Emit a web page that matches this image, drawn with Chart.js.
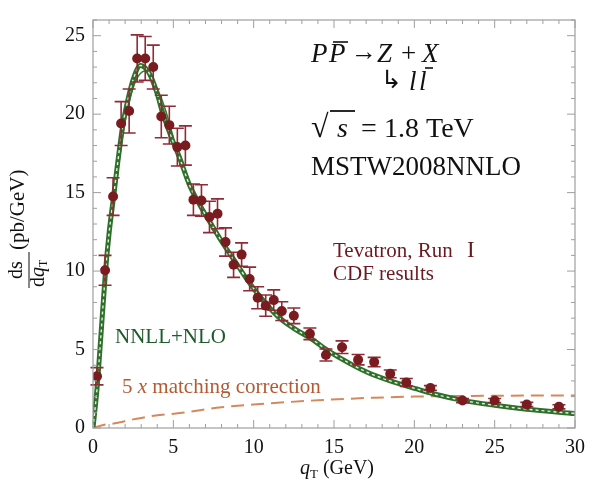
<!DOCTYPE html>
<html><head><meta charset="utf-8">
<script src="https://cdn.jsdelivr.net/npm/chart.js@4/dist/chart.umd.min.js"></script>
<style>html,body{margin:0;padding:0;background:#fff}#wrap{width:593px;height:482px;position:relative}</style>
</head><body><div id="wrap"><canvas id="c" width="593" height="482"></canvas></div>
<script>
// CDF Run I data (qT bin centres, cross-section, error)
const qData  = [0.25,0.75,1.25,1.75,2.25,2.75,3.25,3.75,4.25,4.75,5.25,5.75,6.25,6.75,7.25,7.75,8.25,8.75,9.25,9.75,10.25,10.75,11.25,11.75,12.5,13.5,14.5,15.5,16.5,17.5,18.5,19.5,21,23,25,27,29];
const dsData = [3.3,10.05,14.75,19.4,20.2,23.55,23.55,23.0,19.85,19.3,17.9,18.0,14.55,14.5,13.45,13.65,11.85,10.4,11.05,9.5,8.3,7.8,8.15,7.45,7.15,6.0,4.65,5.15,4.35,4.2,3.45,2.9,2.55,1.75,1.75,1.5,1.35];
const dsErr  = [0.55,0.95,1.2,1.4,1.4,1.5,1.4,1.4,1.35,1.2,1.2,1.25,1.0,1.0,1.0,0.95,0.9,0.8,0.75,0.75,0.7,0.68,0.65,0.6,0.5,0.37,0.38,0.4,0.33,0.3,0.25,0.25,0.15,0.13,0.13,0.13,0.13];
// NNLL+NLO theory curve
const theoryQ = [0,0.25,0.5,0.78,1.0,1.3,1.5,1.87,2.0,2.5,2.96,3.5,4.0,4.33,5.0,5.36,6.0,6.6,7.41,8.0,8.85,9.5,10.29,11.52,12.5,13.57,14.6,16,17.07,18.5,20.15,21.5,23,25,27,30];
const theoryV = [0,2.5,6.0,10.0,12.4,14.9,16.6,19.4,20.1,22.2,23.1,22.6,21.3,20.1,18.2,17.3,15.5,14.3,12.9,11.9,10.6,9.6,8.5,7.1,6.35,5.7,4.95,4.1,3.55,3.0,2.49,2.1,1.76,1.45,1.2,0.92];
// second edge of the band around the peak
const theoryPeakQ = [1.3,1.87,2.5,3.25,4.0,4.5,5.0];
const theoryPeakV = [14.3,18.8,21.7,22.75,21.6,20.3,18.5];
// 5 x matching correction
const matchQ = [0,0.64,1.36,2.5,3.9,5.4,8,10,12.1,14,15.8,17.5,20,23,26,30];
const matchV = [0,0.19,0.3,0.55,0.8,0.95,1.32,1.5,1.65,1.77,1.86,1.93,2.0,2.04,2.06,2.07];
// axis ticks
const xTicks = [0,5,10,15,20,25,30];
const yTicks = [0,5,10,15,20,25];
const xMinorStep = 1, yMinorStep = 1;

const SERIF = "'Liberation Serif','Times New Roman',serif";
const pts = (xs, ys) => xs.map((x,i)=>({x, y: ys[i]}));

function runs(ctx, x, y, list){
  for(const r of list){
    ctx.font = r.font; ctx.fillStyle = r.color || ctx.fillStyle;
    const dx = r.dx || 0;
    ctx.fillText(r.t, x + dx, y + (r.dy||0));
    x += dx + ctx.measureText(r.t).width;
  }
  return x;
}

const decor = {
  id:'decor',
  beforeDatasetDraw(chart, args){
    if(args.index !== 0) return;
    const ctx = chart.ctx, xs = chart.scales.x, ys = chart.scales.y;
    ctx.save();
    ctx.strokeStyle = '#8d2c36'; ctx.lineWidth = 1.6;
    qData.forEach((q,i)=>{
      const px = xs.getPixelForValue(q);
      const y1 = ys.getPixelForValue(dsData[i]+dsErr[i]);
      const y2 = ys.getPixelForValue(dsData[i]-dsErr[i]);
      ctx.beginPath();
      ctx.moveTo(px,y1); ctx.lineTo(px,y2);
      ctx.moveTo(px-6.5,y1); ctx.lineTo(px+6.5,y1);
      ctx.moveTo(px-6.5,y2); ctx.lineTo(px+6.5,y2);
      ctx.stroke();
    });
    ctx.restore();
  },
  afterDraw(chart){
    const ctx = chart.ctx, xs = chart.scales.x, ys = chart.scales.y;
    const {left,right,top,bottom} = chart.chartArea;
    ctx.save();
    // frame
    ctx.strokeStyle = '#9e9e9e'; ctx.lineWidth = 1.2;
    ctx.strokeRect(left, top, right-left, bottom-top);
    // ticks (inward, all sides)
    ctx.lineWidth = 1;
    for(let v = xs.min; v <= xs.max + 1e-9; v += xMinorStep){
      const px = xs.getPixelForValue(v);
      const len = xTicks.includes(v) ? 8 : 4;
      ctx.beginPath();
      ctx.moveTo(px, bottom); ctx.lineTo(px, bottom-len);
      ctx.moveTo(px, top); ctx.lineTo(px, top+len);
      ctx.stroke();
    }
    for(let v = ys.min; v <= ys.max + 1e-9; v += yMinorStep){
      const py = ys.getPixelForValue(v);
      const len = yTicks.includes(v) ? 8 : 4;
      ctx.beginPath();
      ctx.moveTo(left, py); ctx.lineTo(left+len, py);
      ctx.moveTo(right, py); ctx.lineTo(right-len, py);
      ctx.stroke();
    }
    ctx.textBaseline = 'alphabetic'; ctx.textAlign = 'left';
    // x title
    runs(ctx, 300, 474, [
      {t:'q', font:`italic 20px ${SERIF}`, color:'#111'},
      {t:'T', font:`13px ${SERIF}`, dy:4},
      {t:' (GeV)', font:`20px ${SERIF}`}
    ]);
    // y title (rotated fraction)
    ctx.save();
    ctx.translate(29, 270);
    ctx.rotate(-Math.PI/2);
    ctx.fillStyle = '#111';
    ctx.font = `20px ${SERIF}`;
    ctx.textAlign = 'center';
    ctx.fillText('ds', 0, -7);
    ctx.strokeStyle = '#111'; ctx.lineWidth = 1;
    ctx.beginPath(); ctx.moveTo(-18, 0); ctx.lineTo(18, 0); ctx.stroke();
    ctx.textAlign = 'left';
    runs(ctx, -17, 15, [
      {t:'d', font:`20px ${SERIF}`},
      {t:'q', font:`italic 20px ${SERIF}`},
      {t:'T', font:`12px ${SERIF}`, dy:3}
    ]);
    ctx.font = `21px ${SERIF}`;
    ctx.fillText('(pb/GeV)', 20, -5);
    ctx.restore();

    // top-right annotations
    ctx.fillStyle = '#111';
    ctx.font = `italic 27px ${SERIF}`;
    ctx.fillText('P', 311, 62);
    ctx.fillText('P', 329, 62);
    ctx.strokeStyle = '#111'; ctx.lineWidth = 1.6;
    ctx.beginPath(); ctx.moveTo(333, 42); ctx.lineTo(348, 42); ctx.stroke();
    ctx.font = `26px ${SERIF}`;
    ctx.fillText('→', 351, 60);
    ctx.font = `italic 27px ${SERIF}`;
    ctx.fillText('Z', 377, 62);
    ctx.font = `27px ${SERIF}`;
    ctx.fillText('+', 401, 62);
    ctx.font = `italic 27px ${SERIF}`;
    ctx.fillText('X', 422, 62);
    ctx.font = `25px 'DejaVu Sans',sans-serif`;
    ctx.fillText('↳', 381, 88);
    ctx.font = `italic 27px ${SERIF}`;
    ctx.fillText('l', 409, 90);
    ctx.fillText('l', 419, 90);
    ctx.beginPath(); ctx.moveTo(425, 68); ctx.lineTo(433, 68); ctx.stroke();

    ctx.font = `32px ${SERIF}`;
    ctx.fillText('√', 311, 137);
    ctx.lineWidth = 1.8;
    ctx.beginPath(); ctx.moveTo(330, 111); ctx.lineTo(355, 111); ctx.stroke();
    ctx.font = `italic 28px ${SERIF}`;
    ctx.fillText('s', 337, 137);
    ctx.font = `28px ${SERIF}`;
    ctx.fillText('=', 361, 137);
    ctx.fillText('1.8 TeV', 384, 137);
    ctx.font = `27px ${SERIF}`;
    ctx.fillText('MSTW2008NNLO', 311, 175);

    // data label
    ctx.fillStyle = '#6c1a22';
    ctx.font = `21px ${SERIF}`;
    ctx.fillText('Tevatron, Run', 333, 257);
    ctx.font = `23px ${SERIF}`;
    ctx.fillText('I', 467, 257);
    ctx.font = `21px ${SERIF}`;
    ctx.fillText('CDF results', 333, 280);

    ctx.fillStyle = '#1f5a2b';
    ctx.fillText('NNLL+NLO', 115, 343);

    ctx.fillStyle = '#b35a33';
    runs(ctx, 122, 393, [
      {t:'5 ', font:`21px ${SERIF}`},
      {t:'x', font:`italic 21px ${SERIF}`},
      {t:' matching correction', font:`21px ${SERIF}`}
    ]);
    ctx.restore();
  }
};

new Chart(document.getElementById('c'), {
  type:'scatter',
  data:{
    datasets:[
      {label:'CDF', data: pts(qData, dsData), pointRadius:5, pointHoverRadius:5,
       backgroundColor:'#7a1b20', borderColor:'#7a1b20', borderWidth:0, showLine:false, order:0},
      {label:'band-dash', data: pts(theoryQ, theoryV), showLine:true, pointRadius:0,
       borderColor:'rgba(235,245,230,0.95)', borderWidth:1.4, borderDash:[3,3],
       cubicInterpolationMode:'monotone', order:1},
      {label:'NNLL+NLO', data: pts(theoryQ, theoryV), showLine:true, pointRadius:0,
       borderColor:'#2f6f2c', borderWidth:5, cubicInterpolationMode:'monotone', order:2},
      {label:'band-edge', data: pts(theoryPeakQ, theoryPeakV), showLine:true, pointRadius:0,
       borderColor:'#3b7a35', borderWidth:1.6, cubicInterpolationMode:'monotone', order:3},
      {label:'matching', data: pts(matchQ, matchV), showLine:true, pointRadius:0,
       borderColor:'#d4895c', borderWidth:2, borderDash:[13,7],
       cubicInterpolationMode:'monotone', order:4}
    ]
  },
  options:{
    responsive:false, animation:false, devicePixelRatio:1,
    layout:{padding:{top:14, right:13, left:0, bottom:0}},
    plugins:{legend:{display:false}, tooltip:{enabled:false}},
    scales:{
      x:{type:'linear', min:0, max:30,
         afterBuildTicks: s => { s.ticks = xTicks.map(v=>({value:v})); },
         afterFit: s => { s.height = 54; },
         grid:{display:false, drawTicks:false}, border:{display:false},
         ticks:{font:{family:SERIF, size:20}, color:'#111', padding:8, maxRotation:0, autoSkip:false}},
      y:{type:'linear', min:0, max:26,
         afterBuildTicks: s => { s.ticks = yTicks.map(v=>({value:v})); },
         afterFit: s => { s.width = 93; },
         grid:{display:false, drawTicks:false}, border:{display:false},
         ticks:{font:{family:SERIF, size:20}, color:'#111', padding:8, autoSkip:false}}
    }
  },
  plugins:[decor]
});
</script></body></html>
